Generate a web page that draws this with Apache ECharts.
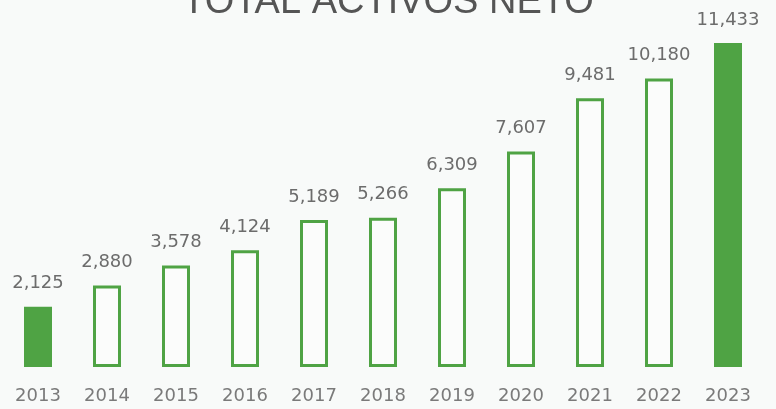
<!DOCTYPE html>
<html>
<head>
<meta charset="utf-8">
<script src="https://cdn.jsdelivr.net/npm/echarts@6/dist/echarts.min.js"></script>
<style>
html,body{margin:0;padding:0;background:#f8faf9;}
#chart{width:776px;height:409px;}
</style>
</head>
<body>
<div id="chart"></div>
<script>
const titleText = 'TOTAL ACTIVOS NETO';
const years = ['2013','2014','2015','2016','2017','2018','2019','2020','2021','2022','2023'];
const values = [2125, 2880, 3578, 4124, 5189, 5266, 6309, 7607, 9481, 10180, 11433];
const solidYears = ['2013','2023'];

const green = '#4fa344';
const chart = echarts.init(document.getElementById('chart'));

const data = values.map((v, i) => {
  const solid = solidYears.includes(years[i]);
  return {
    value: v,
    itemStyle: solid
      ? { color: green, borderColor: green, borderWidth: 2 }
      : { color: '#fbfcfb', borderColor: green, borderWidth: 3 }
  };
});

chart.setOption({
  backgroundColor: '#f8faf9',
  animation: false,
  title: {
    text: titleText,
    left: 'center',
    top: -21,
    textStyle: { fontFamily: 'Liberation Sans', fontSize: 38, fontWeight: 'normal', color: '#555555' }
  },
  grid: { left: 3.5, right: 13.5, top: 27, bottom: 42 },
  xAxis: {
    type: 'category',
    data: years,
    axisLine: { show: false },
    axisTick: { show: false },
    axisLabel: { fontFamily: 'DejaVu Sans', fontSize: 18, color: '#7a7a7a', margin: 20 }
  },
  yAxis: {
    type: 'value',
    min: 0,
    max: 12000,
    show: false
  },
  series: [{
    type: 'bar',
    data: data,
    barWidth: 28,
    label: {
      show: true,
      position: 'top',
      distance: 14,
      fontFamily: 'DejaVu Sans',
      fontSize: 18,
      color: '#6c6c6c',
      formatter: p => p.value.toLocaleString('en-US')
    }
  }]
});
</script>
</body>
</html>
